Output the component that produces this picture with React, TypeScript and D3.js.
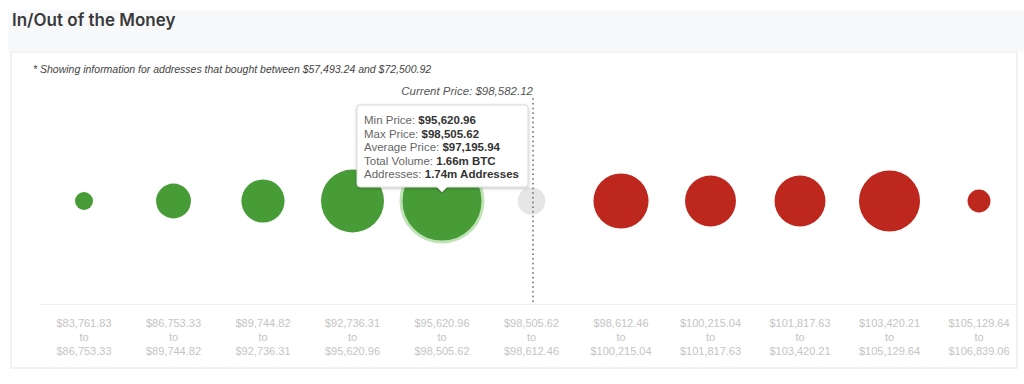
import React from "react";
import * as d3 from "d3";

// price bins (lower / upper bound labels)
const LOWER = [
  "$83,761.83", "$86,753.33", "$89,744.82", "$92,736.31", "$95,620.96", "$98,505.62",
  "$98,612.46", "$100,215.04", "$101,817.63", "$103,420.21", "$105,129.64"
];
const UPPER = [
  "$86,753.33", "$89,744.82", "$92,736.31", "$95,620.96", "$98,505.62", "$98,612.46",
  "$100,215.04", "$101,817.63", "$103,420.21", "$105,129.64", "$106,839.06"
];
// estimated volume per bin (m BTC)
const VOLUME = [0.08, 0.3, 0.46, 0.98, 1.66, 0.19, 0.75, 0.64, 0.64, 0.92, 0.13];
// in / at / out of the money
const STATUS = ["in", "in", "in", "in", "in", "at", "out", "out", "out", "out", "out"];

const HOVER = 4;
const TOOLTIP = [
  ["Min Price: ", "$95,620.96"],
  ["Max Price: ", "$98,505.62"],
  ["Average Price: ", "$97,195.94"],
  ["Total Volume: ", "1.66m BTC"],
  ["Addresses: ", "1.74m Addresses"]
];
const CURRENT_PRICE = "$98,582.12";

const colors = { in: "#489c38", at: "#e6e6e6", out: "#be271d" };

export default function App() {
  const W = 1024, H = 384;
  const cy = 201;
  const x = d3.scalePoint<number>().domain(d3.range(LOWER.length)).range([84, 979]);
  const r = d3.scaleSqrt().domain([0, d3.max(VOLUME) as number]).range([0, 41]);
  const currentX = 533;
  const font = "'Liberation Sans', Arial, sans-serif";

  const tx = x(HOVER) as number;
  const tipW = 171, tipH = 82, tipTop = 105;
  const tipLeft = tx - 85;

  return (
    <svg width={W} height={H} style={{ position: "absolute", left: 0, top: 0 }} fontFamily={font}>
      <defs>
        <filter id="sh" x="-10%" y="-10%" width="120%" height="130%">
          <feDropShadow dx="0" dy="1" stdDeviation="1.5" floodColor="#000" floodOpacity="0.25" />
        </filter>
      </defs>
      <rect width={W} height={H} fill="#fff" />
      {/* header */}
      <rect x={8} y={10} width={1016} height={42} fill="#f8f9fb" />
      <text x={12} y={26} fontFamily="Inter, 'Open Sans', sans-serif" fontSize={17} fontWeight={600} fill="#3a3a3a">
        In/Out of the Money
      </text>
      {/* card */}
      <rect x={11} y={52} width={1006} height={316} fill="#fff" stroke="#f1f2f4" strokeWidth={2} />
      <text x={33} y={73} fontSize={10.5} fontStyle="italic" fill="#444">
        * Showing information for addresses that bought between $57,493.24 and $72,500.92
      </text>
      <text x={currentX} y={95} fontSize={11.5} fontStyle="italic" fill="#555" textAnchor="end">
        Current Price: {CURRENT_PRICE}
      </text>
      {/* axis band lines */}
      <line x1={40} x2={1017} y1={304.5} y2={304.5} stroke="#f0f0f0" />
      <line x1={40} x2={1017} y1={368.5} y2={368.5} stroke="#f0f0f0" />

      {/* bubbles */}
      {VOLUME.map((v, i) => (
        <circle
          key={i}
          cx={x(i)}
          cy={cy}
          r={r(v)}
          fill={colors[STATUS[i] as keyof typeof colors]}
          stroke={i === HOVER ? "#bfe2b6" : "none"}
          strokeWidth={i === HOVER ? 3 : 0}
        />
      ))}

      {/* current price line */}
      <line x1={currentX} x2={currentX} y1={99} y2={304} stroke="#777" strokeWidth={1.8} strokeDasharray="0.1 4.6" strokeLinecap="round" />

      {/* bin labels */}
      {LOWER.map((lo, i) => (
        <text key={i} x={x(i)} textAnchor="middle" fontSize={11} fill="#c4c4c4">
          <tspan x={x(i)} y={327}>{lo}</tspan>
          <tspan x={x(i)} y={341}>to</tspan>
          <tspan x={x(i)} y={355}>{UPPER[i]}</tspan>
        </text>
      ))}

      {/* tooltip */}
      <g filter="url(#sh)">
        <path
          d={`M${tipLeft + 3},${tipTop} h${tipW - 6} q3,0 3,3 v${tipH - 6} q0,3 -3,3 H${tx + 5} l-5,5 l-5,-5 H${tipLeft + 3} q-3,0 -3,-3 v${-(tipH - 6)} q0,-3 3,-3 z`}
          fill="#fff"
          stroke="#d8d8d8"
        />
      </g>
      {TOOLTIP.map(([label, value], i) => (
        <text key={i} x={tipLeft + 7} y={tipTop + 19 + i * 13.6} fontSize={11.5} fill="#666">
          {label}
          <tspan fontWeight="bold" fill="#333">{value}</tspan>
        </text>
      ))}
    </svg>
  );
}
